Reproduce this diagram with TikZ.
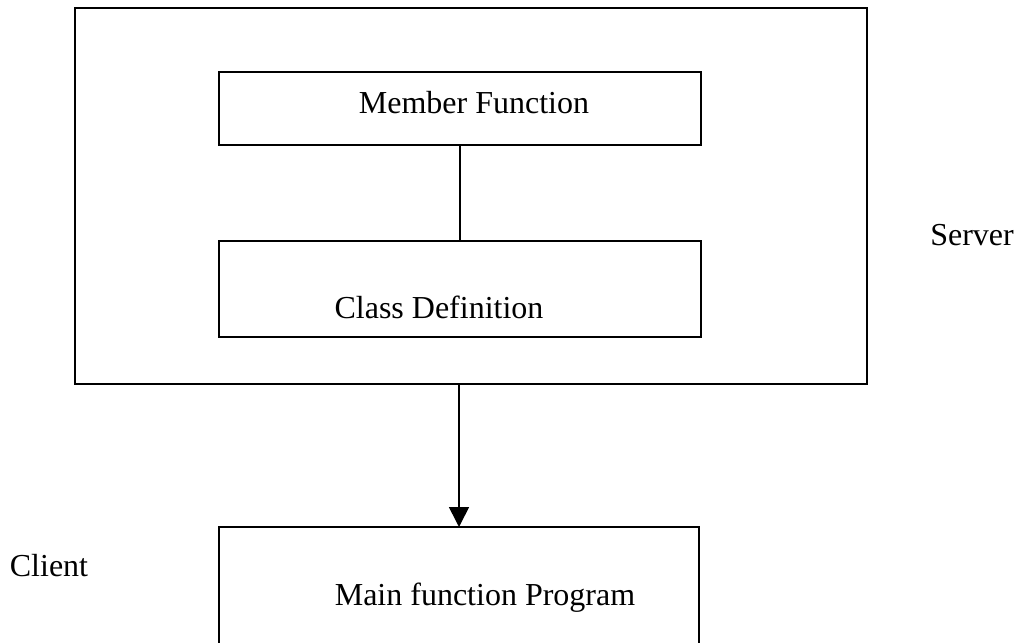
\documentclass[tikz,border=0pt]{standalone}
\usepackage{fontspec}
\setmainfont{Liberation Serif}
\usetikzlibrary{arrows.meta}
\begin{document}
\begin{tikzpicture}[x=1pt,y=-1pt,
  boxstyle/.style={draw,line width=1.6pt,inner sep=0pt,outer sep=0pt},
  lbl/.style={font=\fontsize{32}{36}\selectfont,inner sep=0pt,anchor=base},
  conn/.style={line width=1.6pt}]
\useasboundingbox (0,0) rectangle (1019,642);
\node[boxstyle,minimum width=792pt,minimum height=376pt] (outer) at (471,196) {};
\node[boxstyle,minimum width=482pt,minimum height=73pt] (member) at (460,108.5) {};
\node[boxstyle,minimum width=482pt,minimum height=96pt] (classdef) at (460,289) {};
\node[boxstyle,minimum width=480pt,minimum height=140pt] (mainbox) at (459,597) {};
\node[lbl] (tmember) at (474,113) {Member Function};
\node[lbl] (tclass) at (439,318) {Class Definition};
\node[lbl] (tmain) at (485,605) {Main function Program};
\node[lbl] (tserver) at (972,245) {Server};
\node[lbl] (tclient) at (49,576) {Client};
\draw[conn] (member.south) -- (classdef.north);
\draw[conn,-{Triangle[width=20pt,length=20pt]}] (mainbox.north |- outer.south) -- (mainbox.north);
\end{tikzpicture}
\end{document}
